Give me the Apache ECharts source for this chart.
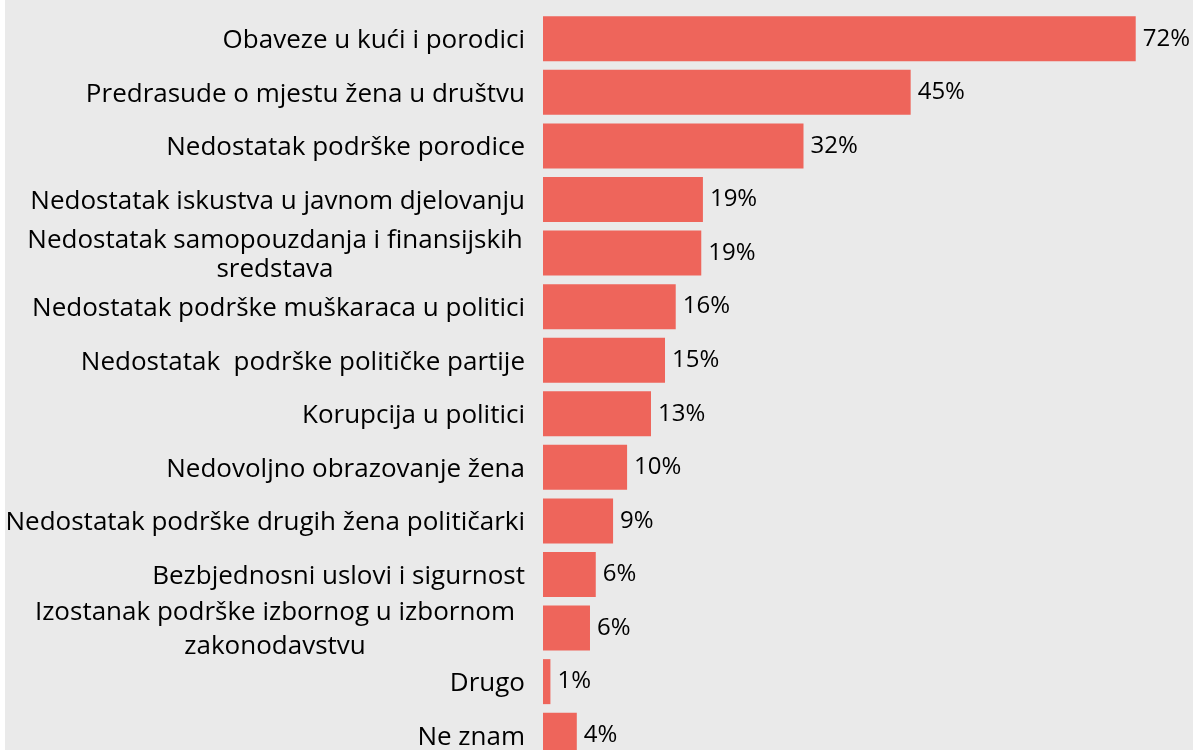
<!DOCTYPE html>
<html>
<head>
<meta charset="utf-8">
<script src="https://cdn.jsdelivr.net/npm/echarts@6/dist/echarts.min.js"></script>
<style>
  html, body { margin: 0; padding: 0; background: #fff; overflow: hidden; }
  #wrap { position: absolute; left: 5px; top: 0; width: 1188px; height: 750px; overflow: hidden; background: #eaeaea; }
  #chart { position: absolute; left: 0; top: 0; width: 1188px; height: 770px; }
</style>
</head>
<body>
<div id="wrap"><div id="chart"></div></div>
<script>
// categories top to bottom
const categories = [
  "Obaveze u kući i porodici",
  "Predrasude o mjestu žena u društvu",
  "Nedostatak podrške porodice",
  "Nedostatak iskustva u javnom djelovanju",
  "Nedostatak samopouzdanja i finansijskih\nsredstava",
  "Nedostatak podrške muškaraca u politici",
  "Nedostatak  podrške političke partije",
  "Korupcija u politici",
  "Nedovoljno obrazovanje žena",
  "Nedostatak podrške drugih žena političarki",
  "Bezbjednosni uslovi i sigurnost",
  "Izostanak podrške izbornog u izbornom\nzakonodavstvu",
  "Drugo",
  "Ne znam"
];
const values = [71.9, 44.6, 31.6, 19.4, 19.2, 16.1, 14.8, 13.1, 10.2, 8.5, 6.4, 5.7, 0.9, 4.1];

var dom = document.getElementById("chart");
var myChart = echarts.init(dom, null, { renderer: "canvas" });

var font = "'Open Sans', sans-serif";

var option = {
  animation: false,
  grid: { left: 538, right: 7, top: 12, height: 750, outerBoundsMode: "none" },
  xAxis: {
    type: "value",
    min: 0,
    max: 78,
    show: false
  },
  yAxis: {
    type: "category",
    inverse: true,
    data: categories,
    axisLine: { show: false },
    axisTick: { show: false },
    axisLabel: {
      margin: 18,
      color: "#000",
      fontFamily: font,
      fontSize: 26,
      padding: [4, 0, 0, 0],
      formatter: function (v, i) {
        if (v.indexOf("\n") >= 0) {
          var st = i < 8 ? "a" : "b";
          return v.split("\n").map(function (s) { return "{" + st + "|" + s + "}"; }).join("\n");
        }
        return v;
      },
      rich: {
        a: {
          width: 500,
          align: "center",
          fontFamily: font,
          fontSize: 26,
          lineHeight: 29,
          color: "#000"
        },
        b: {
          width: 500,
          align: "center",
          fontFamily: font,
          fontSize: 26,
          lineHeight: 34,
          color: "#000"
        }
      }
    }
  },
  series: [
    {
      type: "bar",
      data: values,
      barCategoryGap: "16%",
      itemStyle: { color: "#ee655b" },
      label: {
        show: true,
        position: "right",
        distance: 7,
        color: "#000",
        fontFamily: font,
        fontSize: 24,
        formatter: function (p) { return Math.round(p.value) + "%"; }
      }
    }
  ]
};

myChart.setOption(option);
window.addEventListener("resize", myChart.resize);
</script>
</body>
</html>
